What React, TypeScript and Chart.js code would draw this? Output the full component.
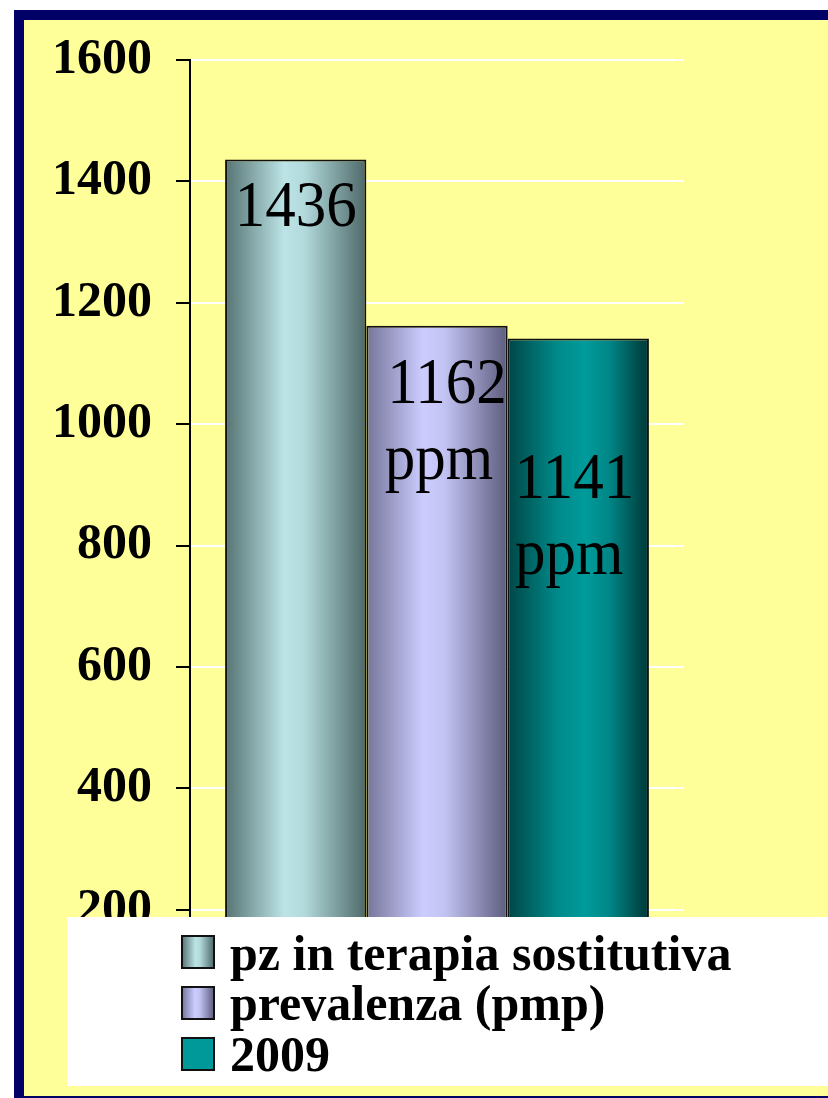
import { useEffect, useRef } from 'react';
import { Chart, registerables } from 'chart.js';

Chart.register(...registerables);

// ---- data ----
const categories = [''];
const seriesNames = ['pz in terapia sostitutiva', 'prevalenza (pmp)', '2009'];
const seriesA = [1436];
const seriesB = [1162];
const seriesC = [1141];
const barLabels = [['1436'], ['1162', 'ppm'], ['1141', 'ppm']];
const yMin = 0;
const yMax = 1600;
const yStep = 200;

// ---- style ----
const FONT = "'Liberation Serif', 'Times New Roman', serif";
const NAVY = '#000066';
const YELLOW = '#FFFF99';
const gradientStops: [number, string][][] = [
  [[0, '#567373'], [0.42, '#bce4e6'], [0.56, '#b2dadc'], [1, '#4e6868']],
  [[0, '#75759a'], [0.4, '#ccccff'], [0.56, '#c2c2f2'], [1, '#5c5c7e']],
  [[0, '#004646'], [0.35, '#008a8a'], [0.55, '#009b9b'], [0.72, '#008686'], [1, '#003636']],
];
const solidColors = ['#9cc8c8', '#aaaadd', '#009999'];
const legendSwatchStops: ([number, string][] | null)[] = [gradientStops[0], gradientStops[1], null];
const labelLayout = [
  { dy: 66, dx: [0] },
  { dy: 77, dx: [10, 2] },
  { dy: 159, dx: [-4, -9] },
];
const LABEL_LINE_H = 76;
const CAT_PCT = 0.858;

function makeGradient(ctx: CanvasRenderingContext2D, x0: number, x1: number, stops: [number, string][]) {
  const g = ctx.createLinearGradient(x0, 0, x1, 0);
  stops.forEach(([o, c]) => g.addColorStop(o, c));
  return g;
}

const barLabelPlugin = {
  id: 'barLabels',
  afterDatasetsDraw(chart: any) {
    const ctx = chart.ctx as CanvasRenderingContext2D;
    ctx.save();
    ctx.fillStyle = '#000';
    ctx.font = `61px ${FONT}`;
    ctx.textAlign = 'center';
    ctx.textBaseline = 'alphabetic';
    chart.data.datasets.forEach((_: any, di: number) => {
      const el = chart.getDatasetMeta(di).data[0];
      if (!el) return;
      const lay = labelLayout[di];
      barLabels[di].forEach((line, li) => {
        const x = el.x + (lay.dx[li] || 0);
        const y = el.y + lay.dy + li * LABEL_LINE_H;
        ctx.save();
        ctx.translate(x, y);
        ctx.scale(1, 1.07);
        ctx.fillText(line, 0, 0);
        ctx.restore();
      });
    });
    ctx.restore();
  },
};

const legendPlugin = {
  id: 'boxLegend',
  afterDraw(chart: any) {
    const ctx = chart.ctx as CanvasRenderingContext2D;
    ctx.save();
    ctx.fillStyle = '#ffffff';
    ctx.fillRect(67, 917, 828 - 67, 1086 - 917);
    const rows = [936, 987, 1038];
    const baselines = [970, 1020, 1071];
    seriesNames.forEach((name, i) => {
      const bx = 182;
      const by = rows[i];
      const s = 32;
      const stops = legendSwatchStops[i];
      ctx.fillStyle = stops ? makeGradient(ctx, bx, bx + s, stops) : solidColors[i];
      ctx.fillRect(bx, by, s, s);
      ctx.strokeStyle = '#111';
      ctx.lineWidth = 2;
      ctx.strokeRect(bx, by, s, s);
      ctx.fillStyle = '#000';
      ctx.font = `bold 50px ${FONT}`;
      ctx.textAlign = 'left';
      ctx.textBaseline = 'alphabetic';
      ctx.fillText(name, 230, baselines[i]);
    });
    ctx.restore();
  },
};

function barBackground(i: number) {
  return (c: any) => {
    const chart = c.chart;
    const area = chart.chartArea;
    if (!area) return solidColors[i];
    const catW = (area.right - area.left) * CAT_PCT;
    const barW = catW / seriesNames.length;
    const left = (area.left + area.right) / 2 - catW / 2 + i * barW;
    return makeGradient(chart.ctx, left, left + barW, gradientStops[i]);
  };
}

export default function App() {
  const ref = useRef<HTMLCanvasElement | null>(null);
  useEffect(() => {
    if (!ref.current) return;
    const values = [seriesA, seriesB, seriesC];
    const chart = new Chart(ref.current, {
      type: 'bar',
      data: {
        labels: categories,
        datasets: seriesNames.map((name, i) => ({
          label: name,
          data: values[i],
          backgroundColor: barBackground(i),
          borderColor: '#111',
          borderWidth: 2,
          barPercentage: 1,
          categoryPercentage: CAT_PCT,
        })),
      },
      options: {
        responsive: false,
        animation: false,
        devicePixelRatio: 1,
        layout: { padding: { left: 0, right: 144, top: 60, bottom: 67 } },
        plugins: { legend: { display: false }, tooltip: { enabled: false } },
        scales: {
          x: { display: false },
          y: {
            min: yMin,
            max: yMax,
            afterFit: (s: any) => {
              s.width = 190;
            },
            ticks: {
              stepSize: yStep,
              color: '#000',
              padding: 24,
              font: { family: FONT, size: 50, weight: 'bold' },
              callback: (v: any) => String(v),
            },
            grid: {
              color: '#ffffff',
              lineWidth: 2,
              tickColor: '#000',
              tickLength: 14,
              tickWidth: 2,
            },
            border: { color: '#000', width: 2 },
          },
        },
      },
      plugins: [barLabelPlugin, legendPlugin],
    });
    return () => chart.destroy();
  }, []);

  return (
    <div style={{ position: 'absolute', left: 0, top: 0, width: 828, height: 1098, overflow: 'hidden', background: '#fff' }}>
      <div
        style={{
          position: 'absolute',
          left: 14,
          top: 10,
          width: 830,
          height: 1088,
          boxSizing: 'border-box',
          borderTop: `10px solid ${NAVY}`,
          borderLeft: `10px solid ${NAVY}`,
          borderBottom: `2px solid ${NAVY}`,
          background: YELLOW,
        }}
      />
      <canvas
        ref={ref}
        width={828}
        height={1098}
        style={{ position: 'absolute', left: 0, top: 0, width: 828, height: 1098 }}
      />
    </div>
  );
}
